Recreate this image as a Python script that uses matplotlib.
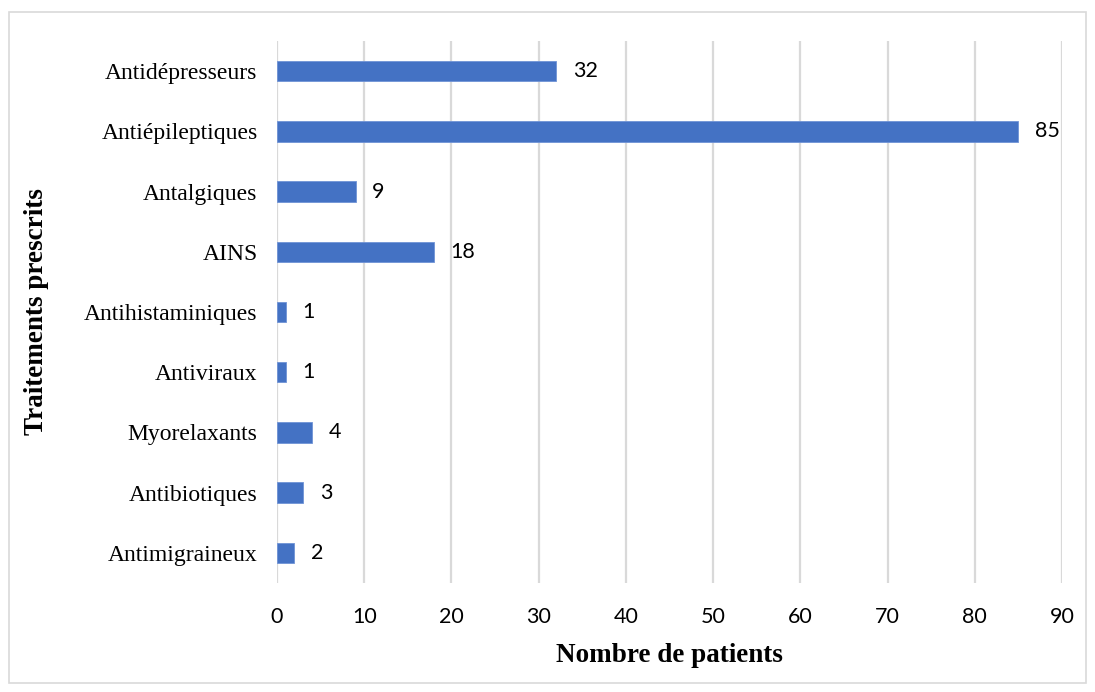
import matplotlib
matplotlib.use("Agg")
import matplotlib.pyplot as plt
from matplotlib.patches import Rectangle

categories = ["Antidépresseurs", "Antiépileptiques", "Antalgiques", "AINS",
              "Antihistaminiques", "Antiviraux", "Myorelaxants", "Antibiotiques",
              "Antimigraineux"]
values = [32, 85, 9, 18, 1, 1, 4, 3, 2]
xticks = [0, 10, 20, 30, 40, 50, 60, 70, 80, 90]

fig = plt.figure(figsize=(10.95, 6.92), dpi=100)
fig.patches.append(Rectangle((9/1095, 1-683/692), 1077/1095, 671/692, transform=fig.transFigure,
                             fill=False, edgecolor="#d9d9d9", linewidth=1.2))
ax = fig.add_axes([277/1095, 1-583/692, 785/1095, 542/692])

ypos = list(range(len(categories)))
ax.barh(ypos, values, height=0.34, color="#4472C4", edgecolor="#6f93d6", linewidth=0.6, zorder=3)
ax.set_ylim(len(categories)-0.5, -0.5)
ax.set_xlim(0, 90)
ax.set_xticks(xticks)
ax.set_xticklabels([str(t) for t in xticks], fontfamily="Lato", fontsize=15.5)
ax.set_yticks(ypos)
ax.set_yticklabels(categories, fontfamily="Liberation Serif", fontsize=17)
ax.tick_params(axis="both", length=0)
ax.tick_params(axis="x", pad=17)
ax.tick_params(axis="y", pad=14)
ax.grid(axis="x", color="#d9d9d9", linewidth=1.6, zorder=0)
ax.set_axisbelow(True)
for s in ax.spines.values():
    s.set_visible(False)

for y, v in zip(ypos, values):
    ax.annotate(str(v), (v, y), xytext=(12, 0), textcoords="offset points",
                va="center", ha="left", fontfamily="Lato", fontsize=15.5)

ax.set_xlabel("Nombre de patients", fontfamily="Liberation Serif", fontsize=19.5,
              fontweight="bold", labelpad=12)
yl = ax.set_ylabel("Traitements prescrits", fontfamily="Liberation Serif", fontsize=19.5,
                   fontweight="bold")
yl.set_va("center")
ax.yaxis.set_label_coords(-(277-37)/785, 0.5)

fig.savefig("out.png", dpi=100)
